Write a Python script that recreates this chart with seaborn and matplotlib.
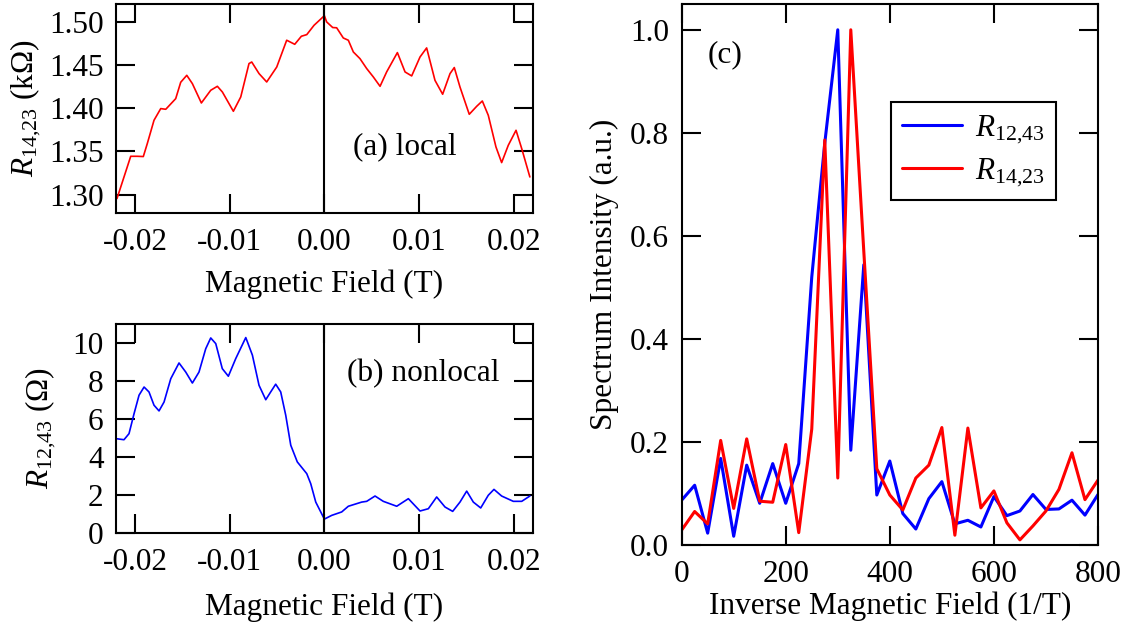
import numpy as np
import pandas as pd
import matplotlib
matplotlib.use("Agg")
import matplotlib.pyplot as plt
import seaborn as sns

# ---- (a) local resistance vs. magnetic field ----
field_a = [-0.0219, -0.02045, -0.01975, -0.01912, -0.0187, -0.01799, -0.01728, -0.01675,
           -0.0157, -0.01517, -0.01453, -0.01394, -0.01299, -0.0120, -0.0113, -0.01077,
           -0.00961, -0.00883, -0.00796, -0.00767, -0.0069, -0.00609, -0.00503, -0.00398,
           -0.00313, -0.00243, -0.00186, -0.00109, 0.0, 0.00024, 0.00088, 0.0013,
           0.0020, 0.00253, 0.00306, 0.00376, 0.00447, 0.00517, 0.00588, 0.00658,
           0.00771, 0.00852, 0.00922, 0.0101, 0.0108, 0.01168, 0.01249, 0.01327,
           0.01372, 0.01432, 0.0153, 0.01609, 0.01668, 0.01731, 0.01812, 0.01872,
           0.01942, 0.02024, 0.02084, 0.0217]
r_local = [1.2954, 1.3443, 1.3443, 1.344, 1.359, 1.386, 1.3995, 1.3987,
           1.411, 1.430, 1.438, 1.4284, 1.406, 1.4207, 1.4253, 1.4187,
           1.3964, 1.413, 1.4516, 1.4534, 1.440, 1.4303, 1.4476, 1.4786,
           1.4739, 1.4832, 1.4851, 1.4959, 1.507, 1.4998, 1.4933, 1.493,
           1.4812, 1.4786, 1.465, 1.4573, 1.4458, 1.4361, 1.4253, 1.442,
           1.4643, 1.4419, 1.4373, 1.4592, 1.4697, 1.4322, 1.4161, 1.440,
           1.447, 1.4245, 1.3929, 1.4022, 1.4083, 1.3917, 1.3551, 1.337,
           1.357, 1.3744, 1.3532, 1.3204]

# ---- (b) nonlocal resistance vs. magnetic field ----
field_b = [-0.0219, -0.02116, -0.02063, -0.0201, -0.01957, -0.01904, -0.01852, -0.01799,
           -0.01746, -0.01693, -0.01622, -0.01535, -0.01464, -0.01394, -0.01324, -0.01253,
           -0.0120, -0.01147, -0.01078, -0.01014, -0.00936, -0.0083, -0.0076, -0.0069,
           -0.00619, -0.00567, -0.00514, -0.00461, -0.00408, -0.00355, -0.00286, -0.00186,
           -0.00144, -0.00091, -0.00011, 0.00007, 0.00078, 0.00183, 0.00253, 0.00394,
           0.00447, 0.00535, 0.00622, 0.00764, 0.00887, 0.0101, 0.01098, 0.01186,
           0.01274, 0.01355, 0.01432, 0.01503, 0.01573, 0.01651, 0.01731, 0.01791,
           0.01872, 0.01995, 0.02084, 0.0217]
r_nonlocal = [4.95, 4.90, 5.22, 6.27, 7.25, 7.68, 7.42, 6.72,
              6.42, 6.89, 8.12, 8.95, 8.47, 7.89, 8.47, 9.70,
              10.27, 9.97, 8.65, 8.25, 9.18, 10.29, 9.36, 7.77,
              7.01, 7.42, 7.83, 7.42, 6.19, 4.61, 3.73, 3.11,
              2.58, 1.61, 0.82, 0.73, 0.91, 1.09, 1.39, 1.61,
              1.65, 1.93, 1.65, 1.39, 1.79, 1.14, 1.26, 1.88,
              1.35, 1.12, 1.61, 2.19, 1.61, 1.30, 1.97, 2.28,
              1.93, 1.65, 1.65, 1.93]

# ---- (c) Fourier spectra vs. inverse field ----
inv_field = [0, 25, 50, 75, 100, 125, 150, 175, 200, 225, 250, 275, 300, 325, 350, 375,
             400, 425, 450, 475, 500, 525, 550, 575, 600, 625, 650, 675, 700, 725, 750,
             775, 800]
spec_12_43 = [0.087, 0.116, 0.023, 0.168, 0.017, 0.155, 0.081, 0.158, 0.081, 0.158,
              0.52, 0.78, 1.0, 0.184, 0.544, 0.097, 0.163, 0.061, 0.031, 0.090,
              0.123, 0.041, 0.048, 0.035, 0.094, 0.057, 0.066, 0.098, 0.069, 0.070,
              0.087, 0.058, 0.098]
spec_14_23 = [0.029, 0.065, 0.041, 0.203, 0.071, 0.206, 0.085, 0.083, 0.195, 0.024,
              0.225, 0.786, 0.13, 1.0, 0.57, 0.148, 0.097, 0.068, 0.130, 0.155,
              0.228, 0.019, 0.227, 0.072, 0.105, 0.043, 0.010, 0.037, 0.066, 0.108,
              0.179, 0.088, 0.126]

label_12_43 = r"$R_{12{,}43}$"
label_14_23 = r"$R_{14{,}23}$"

sns.set_style("ticks")
FS = 22.5
plt.rcParams.update({
    "font.family": ["Liberation Serif", "DejaVu Serif"],
    "mathtext.fontset": "custom",
    "mathtext.rm": "Liberation Serif",
    "mathtext.it": "Liberation Serif:italic",
    "mathtext.bf": "Liberation Serif:bold",
    "axes.unicode_minus": False,
    "font.size": FS,
    "axes.linewidth": 1.5,
    "axes.edgecolor": "black",
    "text.color": "black",
    "axes.labelcolor": "black",
    "xtick.color": "black",
    "ytick.color": "black",
})

fig = plt.figure(figsize=(11.31, 6.39), dpi=100)
ax_a = fig.add_axes([0.1026, 0.6671, 0.3684, 0.3266])
ax_b = fig.add_axes([0.1026, 0.1665, 0.3684, 0.3269])
ax_c = fig.add_axes([0.6027, 0.1471, 0.3681, 0.8466])


def style_axis(ax):
    ax.tick_params(direction="in", length=13.7, width=1.5, top=True, right=True,
                   labelsize=FS)
    ax.tick_params(axis="y", pad=9)
    ax.tick_params(axis="x", pad=11)
    for sp in ax.spines.values():
        sp.set_visible(True)
        sp.set_linewidth(1.5)
        sp.set_color("black")


# (a)
df_a = pd.DataFrame({"field": field_a, "R": r_local})
sns.lineplot(data=df_a, x="field", y="R", ax=ax_a, color="#ff0000", lw=1.2,
             estimator=None, sort=False)
ax_a.axvline(0, color="black", lw=1.5)
ax_a.set_xlim(-0.022, 0.022)
ax_a.set_ylim(1.279, 1.5205)
ax_a.set_xticks([-0.02, -0.01, 0.0, 0.01, 0.02])
ax_a.set_xticklabels(["-0.02", "-0.01", "0.00", "0.01", "0.02"])
ax_a.set_yticks([1.30, 1.35, 1.40, 1.45, 1.50])
ax_a.set_yticklabels(["1.30", "1.35", "1.40", "1.45", "1.50"])
ax_a.set_xlabel("Magnetic Field (T)", fontsize=FS, labelpad=9)
ax_a.set_ylabel(r"$R_{14{,}23}$ (kΩ)", fontsize=FS, labelpad=4)
ax_a.text(0.569, 0.315, "(a) local", transform=ax_a.transAxes, fontsize=FS,
          ha="left", va="center")
style_axis(ax_a)

# (b)
df_b = pd.DataFrame({"field": field_b, "R": r_nonlocal})
sns.lineplot(data=df_b, x="field", y="R", ax=ax_b, color="#0000ff", lw=1.2,
             estimator=None, sort=False)
ax_b.axvline(0, color="black", lw=1.5)
ax_b.set_xlim(-0.022, 0.022)
ax_b.set_ylim(0, 11.02)
ax_b.set_xticks([-0.02, -0.01, 0.0, 0.01, 0.02])
ax_b.set_xticklabels(["-0.02", "-0.01", "0.00", "0.01", "0.02"])
ax_b.set_yticks([0, 2, 4, 6, 8, 10])
ax_b.set_yticklabels(["0", "2", "4", "6", "8", "10"])
ax_b.set_xlabel("Magnetic Field (T)", fontsize=FS, labelpad=11)
ax_b.set_ylabel(r"$R_{12{,}43}$ (Ω)", fontsize=FS, labelpad=10)
ax_b.text(0.554, 0.759, "(b) nonlocal", transform=ax_b.transAxes, fontsize=FS,
          ha="left", va="center")
style_axis(ax_b)

# (c)
df_c = pd.DataFrame({
    "inv": inv_field * 2,
    "S": spec_12_43 + spec_14_23,
    "trace": [label_12_43] * len(inv_field) + [label_14_23] * len(inv_field),
})
sns.lineplot(data=df_c, x="inv", y="S", hue="trace", ax=ax_c,
             hue_order=[label_12_43, label_14_23],
             palette={label_12_43: "#0000ff", label_14_23: "#ff0000"},
             lw=2.2, estimator=None, sort=False)
ax_c.set_xlim(0, 800)
ax_c.set_ylim(0, 1.05)
ax_c.set_xticks([0, 200, 400, 600, 800])
ax_c.set_yticks([0.0, 0.2, 0.4, 0.6, 0.8, 1.0])
ax_c.set_yticklabels(["0.0", "0.2", "0.4", "0.6", "0.8", "1.0"])
ax_c.set_xlabel("Inverse Magnetic Field (1/T)", fontsize=FS, labelpad=1.5)
ax_c.set_ylabel("Spectrum Intensity (a.u.)", fontsize=FS, labelpad=8)
ax_c.text(0.063, 0.906, "(c)", transform=ax_c.transAxes, fontsize=FS,
          ha="left", va="center")
style_axis(ax_c)
leg = ax_c.legend(loc="upper left", bbox_to_anchor=(0.504, 0.818), borderaxespad=0,
                  fontsize=FS, handlelength=1.92, handletextpad=0.4, borderpad=0.35,
                  labelspacing=0.35, frameon=True, fancybox=False, framealpha=1,
                  edgecolor="black", title=None)
leg.get_frame().set_linewidth(1.5)
for line in leg.get_lines():
    line.set_linewidth(2.2)

fig.savefig("out.png", dpi=100)
